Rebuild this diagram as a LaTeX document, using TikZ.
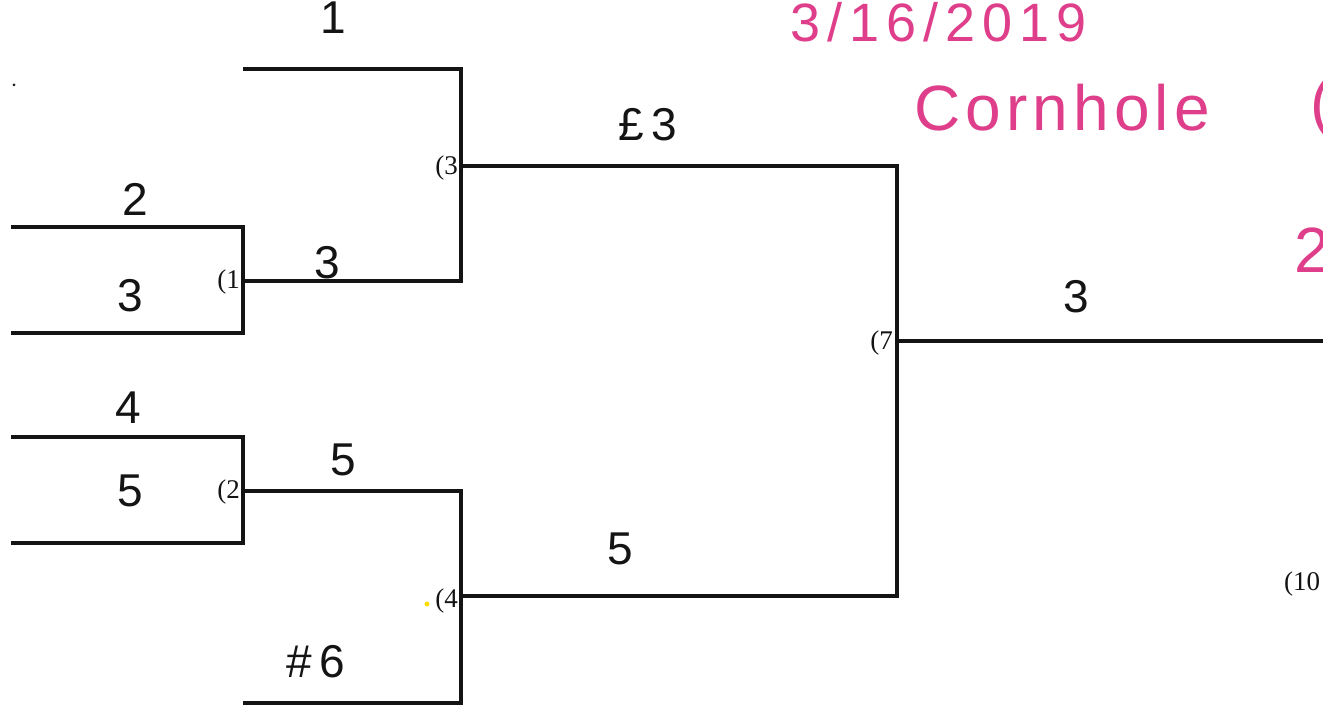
\documentclass[tikz,border=0pt]{standalone}
\usepackage{fontspec}
\setmainfont{Liberation Serif}
\newfontfamily\hwfont{Liberation Sans}
\newfontfamily\datefont[LetterSpace=13]{Liberation Sans}
\newfontfamily\titlefont[LetterSpace=8]{Liberation Sans}
\definecolor{inkpink}{RGB}{222,62,138}
\definecolor{ink}{RGB}{20,20,20}
\begin{document}
\begin{tikzpicture}[x=1pt,y=-1pt,
  bline/.style={draw=ink,line width=3.2pt,line cap=rect,line join=miter},
  hw/.style={inner sep=0pt,text=ink,font=\hwfont\fontsize{46}{46}\selectfont},
  pr/.style={inner sep=0pt,anchor=east,text=ink,font=\fontsize{27}{27}\selectfont},
  pinkdate/.style={inner sep=0pt,text=inkpink,font=\datefont\fontsize{54}{54}\selectfont},
  pinktitle/.style={inner sep=0pt,text=inkpink,font=\titlefont\fontsize{64}{64}\selectfont}]
\useasboundingbox (0,0) rectangle (1323,706);
\clip (0,0) rectangle (1323,706);
\fill[white] (0,0) rectangle (1323,706);
% coordinates of the bracket
\coordinate (s1) at (245,69);
\coordinate (s2) at (13,227);
\coordinate (s3) at (13,333);
\coordinate (s4) at (13,437);
\coordinate (s5) at (13,543);
\coordinate (s6) at (245,703);
\coordinate (m1) at (243,281);
\coordinate (m2) at (243,491);
\coordinate (m3) at (461,166);
\coordinate (m4) at (461,596);
\coordinate (m7) at (897,341);
\coordinate (fin) at (1323,341);
% lines
\draw[bline] (s2) -| (m1) |- (s3);
\draw[bline] (s4) -| (m2) |- (s5);
\draw[bline] (s1) -| (m3) |- (m1);
\draw[bline] (m2) -| (m4) |- (s6);
\draw[bline] (m3) -| (m7) |- (m4);
\draw[bline] (m7) -- (fin);
% printed game numbers
\node[pr] (g1) at (240,282) {(1};
\node[pr] (g3) at (458,168) {(3};
\node[pr] (g2) at (240,492) {(2};
\node[pr] (g4) at (458,601) {(4};
\node[pr] (g7) at (893,343) {(7};
\node[pr,anchor=west] (g10) at (1284,584) {(10};
% handwritten names
\node[hw] (n1) at (333,18) {1};
\node[hw] (n2) at (135,199) {2};
\node[hw] (n3) at (130,296) {3};
\node[hw] (n4) at (128,408) {4};
\node[hw] (n5) at (130,491) {5};
\node[hw] (w1) at (327,263) {3};
\node[hw] (w2) at (343,460) {5};
\node[hw] (w3) at (648,125) {£\,3};
\node[hw] (w4) at (620,549) {5};
\node[hw] (w6) at (316,662) {\#\,6};
\node[hw] (w7) at (1076,297) {3};
% pink notes
\node[pinkdate,anchor=west] (date) at (790,22) {3/16/2019};
\node[pinktitle,anchor=west] (title) at (914,108) {Cornhole};
\node[pinktitle,anchor=west] (part) at (1310,108) {(};
\node[pinktitle,anchor=west] (two) at (1294,250) {2};
% scan specks
\fill[ink] (14,85) circle (1.5pt);
\fill[yellow!80!orange] (427,604) circle (2.5pt);
\end{tikzpicture}
\end{document}
